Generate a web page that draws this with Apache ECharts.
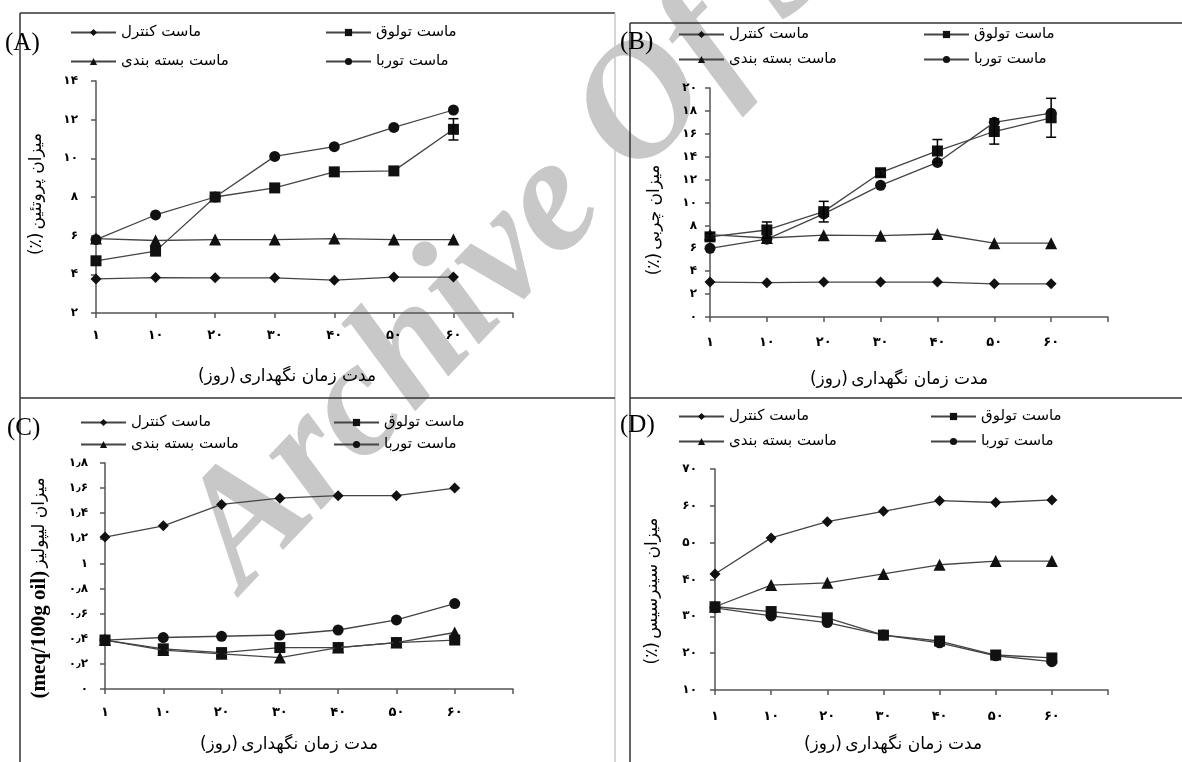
<!DOCTYPE html>
<html>
<head>
<meta charset="utf-8">
<script src="https://cdn.jsdelivr.net/npm/echarts@6/dist/echarts.min.js"></script>
<style>
html, body { margin: 0; padding: 0; background: #fff; }
#chart { width: 1182px; height: 762px; }
</style>
</head>
<body>
<div id="chart"></div>
<script>
// روزهای نگهداری (آخرین دسته خالی است، فقط برای تیک انتهای محور)
var days = ['۱', '۱۰', '۲۰', '۳۰', '۴۰', '۵۰', '۶۰', ''];
var names = ['ماست کنترل', 'ماست تولوق', 'ماست بسته بندی', 'ماست توربا'];

// (A) پروتئین
var proteinControl = [3.76, 3.83, 3.82, 3.82, 3.70, 3.86, 3.86];
var proteinTulugh  = [4.70, 5.20, 8.00, 8.47, 9.30, 9.35, 11.50];
var proteinPacked  = [5.85, 5.75, 5.80, 5.80, 5.85, 5.80, 5.80];
var proteinTurba   = [5.80, 7.07, 8.00, 10.10, 10.60, 11.60, 12.50];
var proteinTulughErr = [0, 0, 0, 0, 0, 0, 0.55];

// (B) چربی
var fatControl = [3.05, 3.00, 3.05, 3.05, 3.05, 2.90, 2.90];
var fatTulugh  = [7.00, 7.60, 9.20, 12.60, 14.50, 16.20, 17.40];
var fatPacked  = [7.20, 6.90, 7.15, 7.10, 7.25, 6.45, 6.45];
var fatTurba   = [6.00, 6.80, 9.00, 11.50, 13.50, 17.00, 17.80];
var fatTulughErr = [0.3, 0.7, 0.9, 0.3, 1.0, 1.1, 1.7];

// (C) لیپولیز
var lipoControl = [1.21, 1.30, 1.47, 1.52, 1.54, 1.54, 1.60];
var lipoTulugh  = [0.39, 0.32, 0.29, 0.33, 0.33, 0.37, 0.39];
var lipoPacked  = [0.39, 0.31, 0.28, 0.25, 0.33, 0.37, 0.45];
var lipoTurba   = [0.39, 0.41, 0.42, 0.43, 0.47, 0.55, 0.68];

// (D) سینرسیس
var synControl = [41.5, 51.3, 55.7, 58.5, 61.4, 60.9, 61.6];
var synTulugh  = [32.6, 31.3, 29.6, 24.9, 23.3, 19.5, 18.7];
var synPacked  = [32.6, 38.5, 39.1, 41.5, 44.0, 45.0, 45.0];
var synTurba   = [32.3, 30.1, 28.3, 24.9, 22.8, 19.3, 17.7];

var FA = 'DejaVu Sans';
var symbols = ['diamond', 'rect', 'triangle', 'circle'];
var symSizes = [11, 11, 12, 11];

function fa(v) {
    var s = String(Math.round(v * 10) / 10);
    return s.replace(/\d/g, function (d) { return '۰۱۲۳۴۵۶۷۸۹'[+d]; }).replace('.', '٫');
}

var chart = echarts.init(document.getElementById('chart'));

var grids = [], xAxes = [], yAxes = [], series = [], legends = [];

function panel(idx, rect, yMin, yMax, yInt, xMargin, yMargin, data, errs, legendPos) {
    grids.push({ left: rect[0], top: rect[1], width: rect[2], height: rect[3], containLabel: false });
    xAxes.push({
        type: 'category', gridIndex: idx, data: days, boundaryGap: false,
        axisLine: { lineStyle: { color: '#555', width: 1.5 } },
        axisTick: { show: true, length: 5, lineStyle: { color: '#555', width: 1.5 } },
        axisLabel: { color: '#000', fontFamily: FA, fontWeight: 'bold', fontSize: 13, margin: xMargin, interval: 0 },
        splitLine: { show: false }
    });
    yAxes.push({
        type: 'value', gridIndex: idx, min: yMin, max: yMax, interval: yInt,
        axisLine: { show: true, lineStyle: { color: '#555', width: 1.5 } },
        axisTick: { show: true, length: 5, lineStyle: { color: '#555', width: 1.5 } },
        axisLabel: { color: '#000', fontFamily: FA, fontWeight: 'bold', fontSize: 12, margin: yMargin, formatter: fa },
        splitLine: { show: false }
    });
    data.forEach(function (arr, k) {
        series.push({
            type: 'line', name: names[k], xAxisIndex: idx, yAxisIndex: idx,
            data: arr, symbol: symbols[k], symbolSize: symSizes[k],
            lineStyle: { color: '#444', width: 1.3 },
            itemStyle: { color: '#111' },
            z: 3 + k, animation: false
        });
    });
    if (errs) {
        var ed = [];
        errs.forEach(function (e, i) {
            if (e > 0) ed.push([i, data[1][i] - e, data[1][i] + e]);
        });
        series.push({
            type: 'custom', name: 'err' + idx, xAxisIndex: idx, yAxisIndex: idx,
            data: ed, encode: { x: 0, y: [1, 2] }, z: 10, animation: false,
            renderItem: function (params, api) {
                var top = api.coord([api.value(0), api.value(2)]);
                var bot = api.coord([api.value(0), api.value(1)]);
                var st = { stroke: '#000', lineWidth: 1.5 };
                return {
                    type: 'group', children: [
                        { type: 'line', shape: { x1: top[0], y1: top[1], x2: bot[0], y2: bot[1] }, style: st },
                        { type: 'line', shape: { x1: top[0] - 5, y1: top[1], x2: top[0] + 5, y2: top[1] }, style: st },
                        { type: 'line', shape: { x1: bot[0] - 5, y1: bot[1], x2: bot[0] + 5, y2: bot[1] }, style: st }
                    ]
                };
            }
        });
    }
    legendPos.forEach(function (p, k) {
        legends.push({
            data: [names[k]], left: p[0], top: p[1] - 8, selectedMode: false,
            itemWidth: 45, itemHeight: 9, padding: 0,
            textStyle: { fontFamily: FA, fontSize: 15, color: '#000' }
        });
    });
}

panel(0, [96, 81, 417, 232], 2, 14, 2, 16, 18,
    [proteinControl, proteinTulugh, proteinPacked, proteinTurba], proteinTulughErr,
    [[70, 33], [325, 33], [70, 62], [325, 62]]);
panel(1, [710, 88, 398, 229], 0, 20, 2, 19, 13,
    [fatControl, fatTulugh, fatPacked, fatTurba], fatTulughErr,
    [[678, 35], [923, 35], [678, 60], [923, 60]]);
panel(2, [105, 463, 408, 226], 0, 1.8, 0.2, 17, 17,
    [lipoControl, lipoTulugh, lipoPacked, lipoTurba], null,
    [[80, 423], [333, 423], [80, 445], [333, 445]]);
panel(3, [715, 469, 393, 221], 10, 70, 10, 20, 18,
    [synControl, synTulugh, synPacked, synTurba], null,
    [[678, 417], [930, 417], [678, 442], [930, 442]]);

function line(x1, y1, x2, y2, color) {
    return { type: 'line', z: 0, shape: { x1: x1, y1: y1, x2: x2, y2: y2 },
        style: { stroke: color || '#333', lineWidth: 1.5 } };
}
function label(x, y, txt) {
    return { type: 'text', x: x, y: y, z: 20,
        style: { text: txt, font: '25px "Liberation Serif"', fill: '#000', textAlign: 'left', textVerticalAlign: 'middle' } };
}
function xName(x, y) {
    return { type: 'text', x: x, y: y, z: 20,
        style: { text: '{a|(روز)} {a|مدت زمان نگهداری}', textAlign: 'center', textVerticalAlign: 'middle',
            rich: { a: { fontFamily: FA, fontSize: 17, fill: '#000' } } } };
}
function yName(x, y, rich) {
    return { type: 'text', x: x, y: y, z: 20, rotation: Math.PI / 2,
        style: { text: rich, textAlign: 'center', textVerticalAlign: 'middle',
            rich: {
                a: { fontFamily: FA, fontSize: 17, fill: '#000' },
                e: { fontFamily: 'Liberation Serif', fontWeight: 'bold', fontSize: 21, fill: '#000' }
            } } };
}

var graphics = [
    { type: 'text', x: 272, y: 619, z: -1, rotation: 0.81,
        style: { text: 'Archive Of SID', font: 'italic bold 164px "Liberation Serif"', fill: '#c8c8c8',
            textAlign: 'left', textVerticalAlign: 'bottom' } },
    line(20, 13, 615, 13),
    line(20, 13, 20, 762),
    line(615, 13, 615, 762, '#c8c8c8'),
    line(20, 398, 615, 398),
    line(630, 398, 1182, 398),
    line(630, 23, 1182, 23),
    line(630, 23, 630, 762),
    label(5, 43, '(A)'),
    label(620, 42, '(B)'),
    label(7, 428, '(C)'),
    label(620, 425, '(D)'),
    xName(287, 377),
    xName(899, 380),
    xName(289, 745),
    xName(893, 745),
    yName(37, 194, '{a|(٪)} {a|میزان پروتئین}'),
    yName(655, 220, '{a|(٪)} {a|میزان چربی}'),
    yName(40, 588, '{e|(meq/100g oil)} {a|میزان لیپولیز}'),
    yName(653, 591, '{a|(٪)} {a|میزان سینرسیس}')
];

chart.setOption({
    backgroundColor: '#fff',
    animation: false,
    grid: grids,
    xAxis: xAxes,
    yAxis: yAxes,
    legend: legends,
    graphic: graphics,
    series: series
});
</script>
</body>
</html>
